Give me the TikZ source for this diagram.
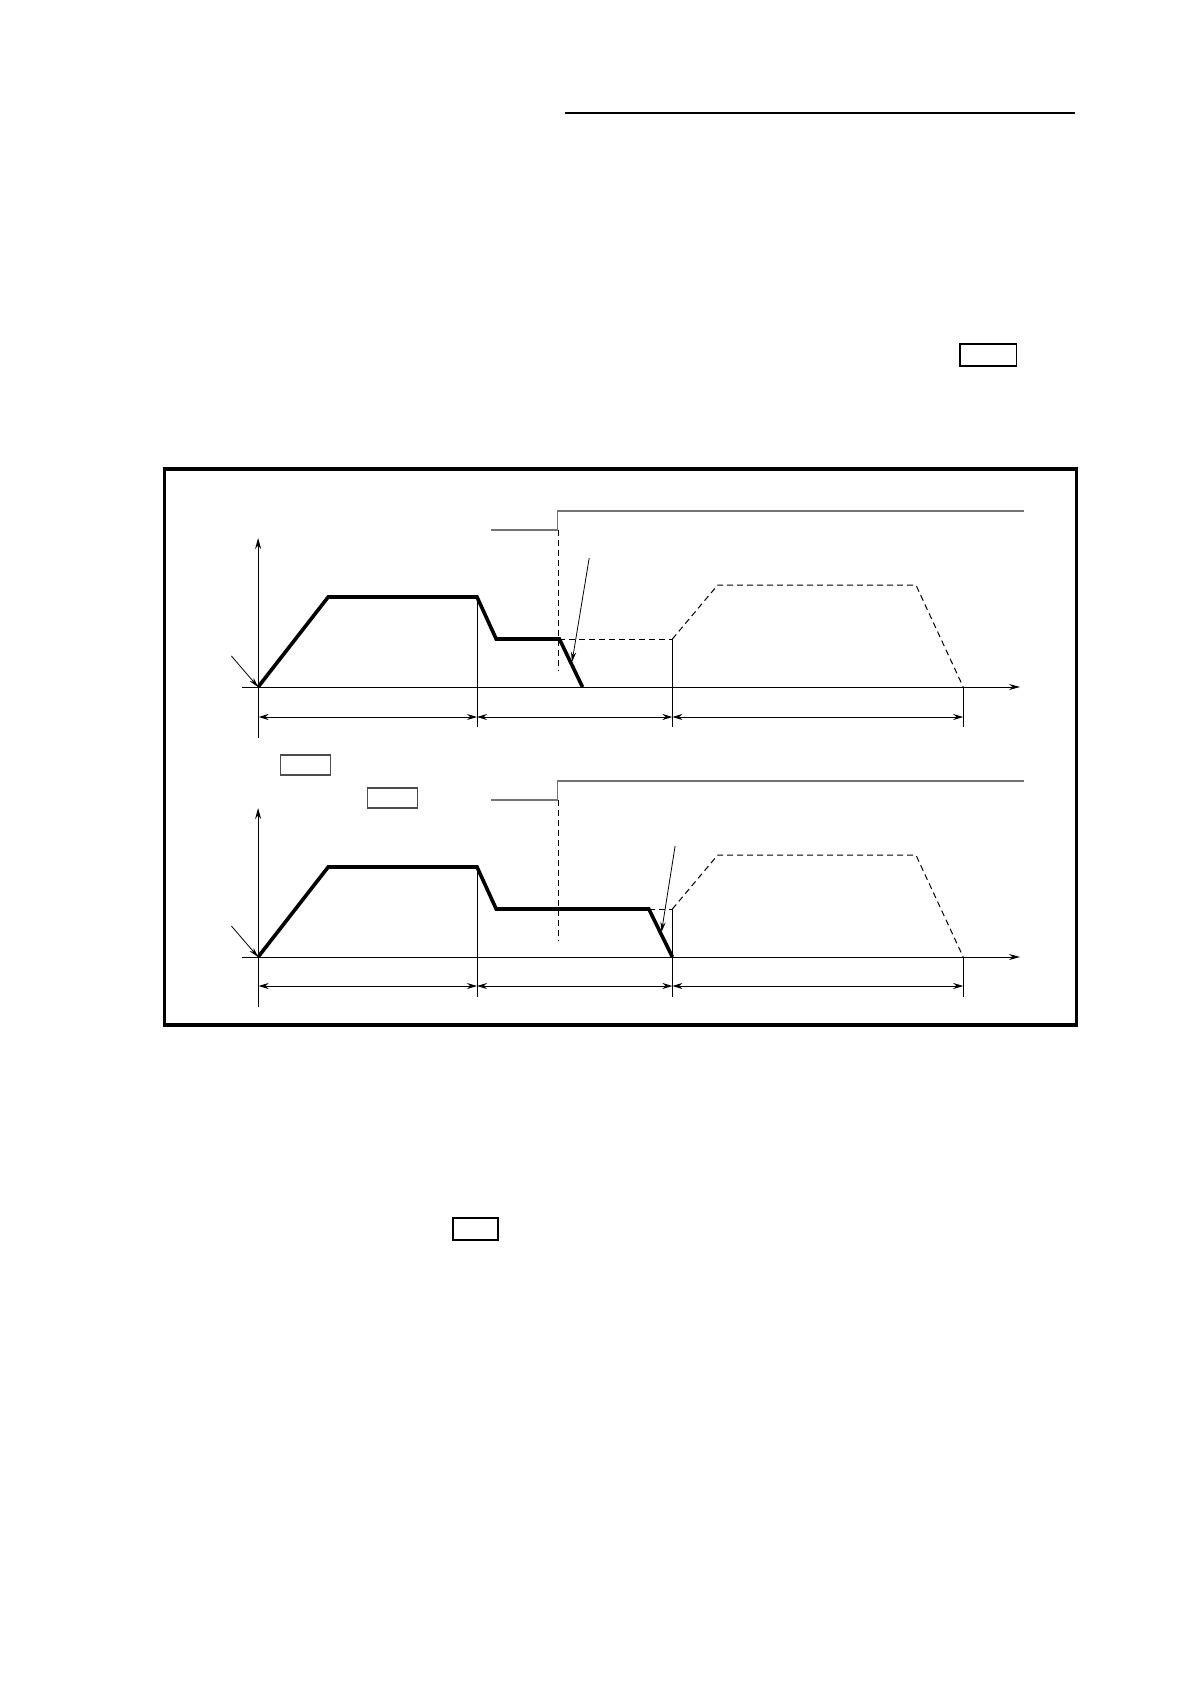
\documentclass[tikz,border=0pt]{standalone}
\usetikzlibrary{arrows.meta}
\begin{document}
\begin{tikzpicture}[x=0.5pt,y=-0.5pt,
  thinline/.style={line width=0.5pt,black},
  profile/.style={line width=1.8pt,black,line join=miter},
  dashline/.style={line width=0.5pt,black,dash pattern=on 3pt off 2pt},
  sigline/.style={line width=0.6pt,black!55},
  dimarrow/.style={line width=0.5pt,{Stealth[length=5pt,width=3pt]}-{Stealth[length=5pt,width=3pt]}},
  axarrow/.style={line width=0.5pt,-{Stealth[length=5.5pt,width=3pt]}},
  ptarrow/.style={line width=0.4pt,-{Stealth[length=5pt,width=2.6pt]}},
  smallbox/.style={draw,line width=0.6pt,black!70},
  pagebox/.style={draw,line width=0.9pt,black}]
\useasboundingbox (0,0) rectangle (1190,1684);
% header rule
\draw[line width=0.8pt] (565,113) -- (1074.6,113);
% page boxes
\draw[pagebox] (960.3,344) rectangle (1016.4,366);
\draw[pagebox] (453,1218) rectangle (498,1240);
% frame
\draw[line width=1.7pt] (164.7,469) rectangle (1076.2,1025);

% ===== upper chart =====
\coordinate (O1) at (258.1,687);
\draw[axarrow] (258.1,738) -- (258.1,538);
\draw[axarrow] (241.6,687) -- (1020,687);
\draw[sigline] (491,530) -- (557.6,530) -- (557.6,511) -- (1023.6,511);
\draw[dashline] (558.3,530) -- (558.3,671);
\draw[dashline] (559.4,639) -- (672.4,639);
\draw[dashline] (672.4,639) -- (717.7,585) -- (915.9,585) -- (963.2,687);
\draw[profile] (O1) -- (328.2,597) -- (477,597) -- (496.2,639) -- (559.4,639) -- (582.5,687);
\draw[thinline] (477,597) -- (477,727);
\draw[thinline] (672.4,639) -- (672.4,727);
\draw[thinline] (963.2,687) -- (963.2,727);
\draw[dimarrow] (258.6,717) -- (477,717);
\draw[dimarrow] (477,717) -- (672.4,717);
\draw[dimarrow] (672.4,717) -- (963.2,717);
\draw[ptarrow] (589.2,558) -- (572,662);
\draw[ptarrow] (231.4,656) -- (O1);

% ===== lower chart =====
\draw[smallbox] (280.5,755) rectangle (330.3,775);
\draw[smallbox] (367.5,788) rectangle (417.3,808);
\coordinate (O2) at (258.1,957);
\draw[axarrow] (258.1,1007) -- (258.1,808);
\draw[axarrow] (241.6,957) -- (1020,957);
\draw[sigline] (491,800) -- (557.6,800) -- (557.6,781) -- (1023.6,781);
\draw[dashline] (558.3,800) -- (558.3,941);
\draw[dashline] (648.8,909) -- (672.4,909);
\draw[dashline] (672.4,909) -- (717.7,855) -- (915.9,855) -- (963.2,957);
\draw[profile] (O2) -- (328.2,867) -- (477,867) -- (496.2,909) -- (648.8,909) -- (672.4,957);
\draw[thinline] (477,867) -- (477,997);
\draw[thinline] (672.4,909) -- (672.4,997);
\draw[thinline] (963.2,957) -- (963.2,997);
\draw[dimarrow] (258.6,986) -- (477,986);
\draw[dimarrow] (477,986) -- (672.4,986);
\draw[dimarrow] (672.4,986) -- (963.2,986);
\draw[ptarrow] (675.1,846) -- (661.5,932);
\draw[ptarrow] (231.4,926) -- (O2);
\end{tikzpicture}
\end{document}
